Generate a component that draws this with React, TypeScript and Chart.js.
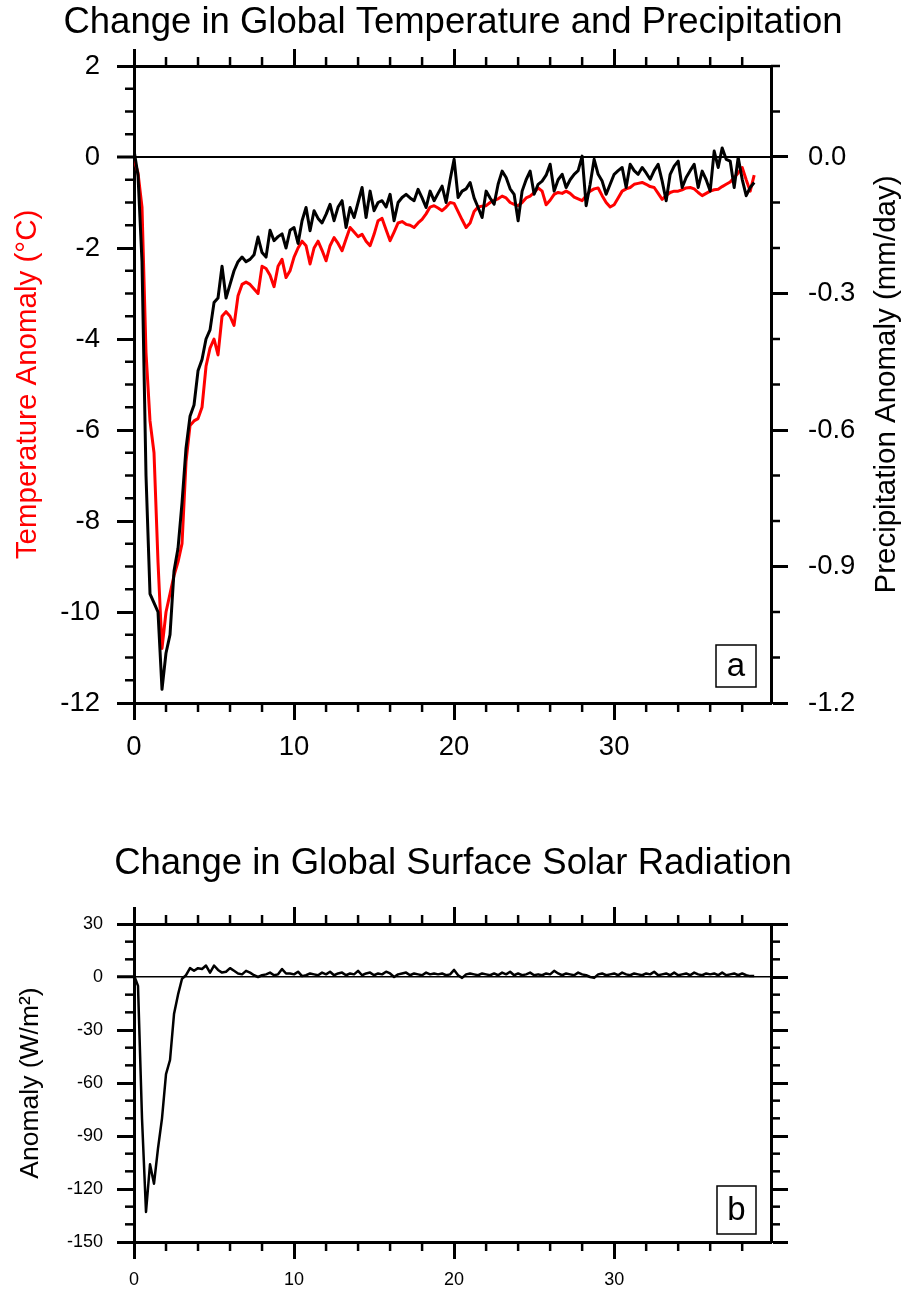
import React, { useEffect, useRef } from "react";
import { Chart, registerables } from "chart.js";

Chart.register(...registerables);

const FONT = "'Liberation Sans', Arial, Helvetica, sans-serif";

// time axis (years)
const YEARS = [
  0, 0.25, 0.5, 0.75, 1, 1.25, 1.5, 1.75, 2, 2.25, 2.5, 2.75, 3, 3.25, 3.5, 3.75,
  4, 4.25, 4.5, 4.75, 5, 5.25, 5.5, 5.75, 6, 6.25, 6.5, 6.75, 7, 7.25, 7.5, 7.75,
  8, 8.25, 8.5, 8.75, 9, 9.25, 9.5, 9.75, 10, 10.25, 10.5, 10.75, 11, 11.25, 11.5, 11.75,
  12, 12.25, 12.5, 12.75, 13, 13.25, 13.5, 13.75, 14, 14.25, 14.5, 14.75, 15, 15.25, 15.5, 15.75,
  16, 16.25, 16.5, 16.75, 17, 17.25, 17.5, 17.75, 18, 18.25, 18.5, 18.75, 19, 19.25, 19.5, 19.75,
  20, 20.25, 20.5, 20.75, 21, 21.25, 21.5, 21.75, 22, 22.25, 22.5, 22.75, 23, 23.25, 23.5, 23.75,
  24, 24.25, 24.5, 24.75, 25, 25.25, 25.5, 25.75, 26, 26.25, 26.5, 26.75, 27, 27.25, 27.5, 27.75,
  28, 28.25, 28.5, 28.75, 29, 29.25, 29.5, 29.75, 30, 30.25, 30.5, 30.75, 31, 31.25, 31.5, 31.75,
  32, 32.25, 32.5, 32.75, 33, 33.25, 33.5, 33.75, 34, 34.25, 34.5, 34.75, 35, 35.25, 35.5, 35.75,
  36, 36.25, 36.5, 36.75, 37, 37.25, 37.5, 37.75, 38, 38.25, 38.5, 38.75,
];

// Temperature anomaly (°C), red
const TEMP_ANOM = [
  -0.05, -0.35, -1.1, -4.3,
  -5.8, -6.5, -8.9, -10.8,
  -10.0, -9.6, -9.2, -8.9,
  -8.5, -6.7, -5.9, -5.8,
  -5.75, -5.5, -4.6, -4.2,
  -4.0, -4.35, -3.5, -3.4,
  -3.5, -3.7, -3.05, -2.8,
  -2.75, -2.8, -2.9, -3.0,
  -2.4, -2.45, -2.6, -2.85,
  -2.4, -2.25, -2.65, -2.5,
  -2.2, -2.0, -1.85, -1.95,
  -2.35, -2.0, -1.85, -2.05,
  -2.28, -1.95, -1.77, -1.9,
  -2.06, -1.8, -1.55, -1.65,
  -1.75, -1.7, -1.85, -1.95,
  -1.7, -1.4, -1.35, -1.6,
  -1.84, -1.65, -1.45, -1.42,
  -1.48, -1.5, -1.55, -1.45,
  -1.37, -1.25, -1.1, -1.07,
  -1.12, -1.18, -1.1, -1.0,
  -1.02, -1.2, -1.38, -1.55,
  -1.45, -1.2, -1.1, -1.08,
  -1.07, -1.0, -0.95, -0.92,
  -0.86, -0.9, -1.0, -1.04,
  -1.07, -1.0, -0.9, -0.86,
  -0.78, -0.68, -0.75, -1.05,
  -0.95, -0.82, -0.78, -0.8,
  -0.75, -0.8, -0.88, -0.92,
  -0.96, -0.85, -0.75, -0.7,
  -0.68, -0.85, -1.0, -1.1,
  -1.05, -0.9, -0.75, -0.7,
  -0.67, -0.6, -0.58, -0.56,
  -0.6, -0.65, -0.67, -0.8,
  -0.93, -0.85, -0.78, -0.75,
  -0.75, -0.72, -0.68, -0.67,
  -0.7, -0.78, -0.85, -0.8,
  -0.75, -0.72, -0.71, -0.65,
  -0.6, -0.55, -0.45, -0.35,
  -0.23, -0.5, -0.75, -0.4,
];

// Precipitation anomaly (mm/day), black
const PRECIP_ANOM = [
  0.015, -0.04, -0.23, -0.7,
  -0.96, -0.98, -1.0, -1.17,
  -1.09, -1.05, -0.91, -0.86,
  -0.76, -0.64, -0.57, -0.545,
  -0.47, -0.445, -0.4, -0.38,
  -0.32, -0.31, -0.24, -0.31,
  -0.28, -0.25, -0.23, -0.22,
  -0.23, -0.225, -0.215, -0.176,
  -0.21, -0.22, -0.161, -0.184,
  -0.175, -0.169, -0.2, -0.161,
  -0.155, -0.19, -0.14, -0.111,
  -0.162, -0.118, -0.135, -0.145,
  -0.126, -0.104, -0.14, -0.11,
  -0.096, -0.155, -0.111, -0.133,
  -0.1, -0.067, -0.133, -0.075,
  -0.118, -0.1, -0.096, -0.11,
  -0.082, -0.14, -0.1, -0.089,
  -0.082, -0.09, -0.096, -0.071,
  -0.09, -0.111, -0.075, -0.096,
  -0.08, -0.064, -0.1, -0.05,
  -0.005, -0.089, -0.075, -0.07,
  -0.056, -0.09, -0.111, -0.133,
  -0.075, -0.09, -0.104, -0.06,
  -0.031, -0.045, -0.07, -0.082,
  -0.14, -0.075, -0.05, -0.031,
  -0.082, -0.06, -0.053, -0.04,
  -0.016, -0.075, -0.05, -0.038,
  -0.067, -0.05, -0.038, -0.03,
  0.002, -0.107, -0.06, -0.005,
  -0.038, -0.053, -0.082, -0.06,
  -0.038, -0.03, -0.023, -0.067,
  -0.016, -0.03, -0.038, -0.023,
  -0.035, -0.049, -0.03, -0.016,
  -0.053, -0.096, -0.038, -0.02,
  -0.009, -0.067, -0.045, -0.03,
  -0.016, -0.067, -0.031, -0.05,
  -0.075, 0.013, -0.023, 0.02,
  -0.005, -0.009, -0.067, -0.001,
  -0.049, -0.085, -0.067, -0.056,
];

// Surface solar radiation anomaly (W/m^2)
const SOLAR_ANOM = [
  1, -5, -80, -133,
  -106, -117, -97, -80,
  -55, -47, -21, -10,
  -1, 1, 5, 3.5,
  5, 4.5, 6.5, 2.5,
  6.5, 4, 2.5, 3,
  5, 3.5, 2, 1.5,
  3.5, 2.5, 1, 0,
  1, 1.5, 2.5, 1,
  1.5, 4.5, 2, 2,
  1.5, 3, 0.5, 1,
  2, 1.5, 1, 2.5,
  1.5, 3, 1, 2,
  2.5, 1, 2, 1.5,
  3.5, 1, 2, 2.5,
  1, 2, 1.5, 3,
  2, 0, 1.5, 2,
  2.5, 1, 2, 1.5,
  1, 2.5, 1.5, 2,
  1.5, 2, 1, 1.5,
  4, 1, -0.5, 1.5,
  2, 1.5, 1, 2,
  1.5, 1, 2, 1,
  2.5, 1.5, 3, 1,
  2, 1, 1.5, 2.5,
  1, 1.5, 1, 2,
  1.5, 3.5, 2, 1,
  2, 1.5, 1, 2.5,
  1.5, 1, 0, -0.5,
  1.5, 2, 1, 1.5,
  2, 1, 2.5, 1.5,
  1, 2, 1.5, 1,
  2, 1.5, 3, 1,
  1.5, 2, 1, 2.5,
  1, 1.5, 2, 1,
  2.5, 1.5, 1, 2,
  1.5, 2, 1, 2.5,
  1, 1.5, 2, 1,
  2, 1, 0.5, 0.5,
];

const X_MIN = 0;
const X_MAX = 39.8;
const X_TICKS = [0, 10, 20, 30];
const TEMP_TICKS = [2, 0, -2, -4, -6, -8, -10, -12];
const PRECIP_TICKS = [0, -0.3, -0.6, -0.9, -1.2];
const SOLAR_TICKS = [30, 0, -30, -60, -90, -120, -150];

const TOP_TITLE = "Change in Global Temperature and Precipitation";
const BOTTOM_TITLE = "Change in Global Surface Solar Radiation";
const TEMP_LABEL = "Temperature Anomaly (°C)";
const PRECIP_LABEL = "Precipitation Anomaly (mm/day)";
const SOLAR_LABEL = "Anomaly (W/m²)";

type MinorSpec = { scale: string; side: "left" | "right" | "top" | "bottom"; from: number; to: number; step: number };

function makeExtras(specs: MinorSpec[], box: { letter: string; w: number; h: number; dr: number; db: number }, rightTitle?: { text: string; x: number; size: number }) {
  return {
    id: "extras",
    afterDraw(chart: any) {
      const { ctx, chartArea: ca } = chart;
      ctx.save();
      ctx.strokeStyle = "#000";
      ctx.lineWidth = 2.5;
      for (const m of specs) {
        const s = chart.scales[m.scale];
        const majors = new Set(s.ticks.map((t: any) => Math.round(t.value * 1000)));
        const n = Math.round((m.to - m.from) / m.step);
        for (let k = 0; k <= n; k++) {
          const v = m.from + k * m.step;
          if (majors.has(Math.round(v * 1000))) continue;
          const p = s.getPixelForValue(v);
          const len = 9;
          ctx.beginPath();
          if (m.side === "left") { ctx.moveTo(ca.left, p); ctx.lineTo(ca.left - len, p); }
          else if (m.side === "right") { ctx.moveTo(ca.right, p); ctx.lineTo(ca.right + len, p); }
          else if (m.side === "bottom") { ctx.moveTo(p, ca.bottom); ctx.lineTo(p, ca.bottom + len); }
          else { ctx.moveTo(p, ca.top); ctx.lineTo(p, ca.top - len); }
          ctx.stroke();
        }
      }
      // panel letter box
      const bx = ca.right - box.dr - box.w;
      const by = ca.bottom - box.db - box.h;
      ctx.fillStyle = "#fff";
      ctx.fillRect(bx, by, box.w, box.h);
      ctx.lineWidth = 1.5;
      ctx.strokeRect(bx, by, box.w, box.h);
      ctx.fillStyle = "#000";
      ctx.font = `33px ${FONT}`;
      ctx.textAlign = "center";
      ctx.textBaseline = "middle";
      ctx.fillText(box.letter, bx + box.w / 2, by + box.h / 2 + 1);
      // right axis title, reading bottom to top
      if (rightTitle) {
        ctx.translate(rightTitle.x, (ca.top + ca.bottom) / 2);
        ctx.rotate(-Math.PI / 2);
        ctx.font = `${rightTitle.size}px ${FONT}`;
        ctx.fillText(rightTitle.text, 0, 0);
      }
      ctx.restore();
    },
  };
}

const setTicks = (vals: number[]) => (s: any) => {
  s.ticks = vals.map((v) => ({ value: v }));
};

const BORDER = { display: true, color: "#000", width: 3 };
const tickGrid = (onArea: boolean, zeroWidth: number) => ({
  display: true,
  drawOnChartArea: onArea,
  drawTicks: true,
  tickLength: 17,
  tickWidth: 3,
  tickColor: "#000",
  color: (c: any) => (c.tick && c.tick.value === 0 ? "#000" : "rgba(0,0,0,0)"),
  lineWidth: (c: any) => (c.tick && c.tick.value === 0 ? zeroWidth : 1),
});

function TopPanel() {
  const ref = useRef<HTMLCanvasElement>(null);
  useEffect(() => {
    const extras = makeExtras(
      [
        { scale: "x", side: "bottom", from: 0, to: 38, step: 2 },
        { scale: "x", side: "top", from: 0, to: 38, step: 2 },
        { scale: "y", side: "left", from: -12, to: 2, step: 0.5 },
        { scale: "y2", side: "right", from: -1.2, to: 0.2, step: 0.1 },
      ],
      { letter: "a", w: 40, h: 42, dr: 15, db: 16 },
      { text: PRECIP_LABEL, x: 887, size: 29.5 }
    );
    const chart = new Chart(ref.current as HTMLCanvasElement, {
      type: "line",
      data: {
        datasets: [
          {
            label: "Precipitation",
            data: YEARS.map((x, i) => ({ x, y: PRECIP_ANOM[i] })),
            xAxisID: "x",
            yAxisID: "y2",
            borderColor: "#000000",
            borderWidth: 3,
            pointRadius: 0,
            tension: 0,
            borderJoinStyle: "round",
          },
          {
            label: "Temperature",
            data: YEARS.map((x, i) => ({ x, y: TEMP_ANOM[i] })),
            xAxisID: "x",
            yAxisID: "y",
            borderColor: "#ff0000",
            borderWidth: 3,
            pointRadius: 0,
            tension: 0,
            borderJoinStyle: "round",
          },
        ],
      } as any,
      options: {
        animation: false,
        responsive: false,
        maintainAspectRatio: false,
        layout: { padding: 0 },
        font: { family: FONT },
        plugins: {
          legend: { display: false },
          tooltip: { enabled: false },
          title: {
            display: true,
            text: TOP_TITLE,
            color: "#000",
            font: { family: FONT, size: 36.5, weight: "normal", lineHeight: 1 },
            padding: { top: 5, bottom: 7.5 },
          },
        },
        scales: {
          x: {
            type: "linear",
            position: "bottom",
            min: X_MIN,
            max: X_MAX,
            afterBuildTicks: setTicks(X_TICKS),
            afterFit: (s: any) => { s.height = 87; },
            grid: tickGrid(false, 1),
            border: BORDER,
            ticks: { color: "#000", font: { family: FONT, size: 27.5 }, padding: 11, maxRotation: 0, autoSkip: false, callback: (v: any) => String(v) },
          },
          xTop: {
            type: "linear",
            position: "top",
            min: X_MIN,
            max: X_MAX,
            afterBuildTicks: setTicks(X_TICKS),
            afterFit: (s: any) => { s.height = 17; },
            grid: tickGrid(false, 1),
            border: BORDER,
            ticks: { display: false },
          },
          y: {
            type: "linear",
            position: "left",
            min: -12,
            max: 2,
            afterBuildTicks: setTicks(TEMP_TICKS),
            afterFit: (s: any) => { s.width = 134; },
            grid: tickGrid(true, 2),
            border: BORDER,
            ticks: { color: "#000", font: { family: FONT, size: 27.5 }, padding: 17, autoSkip: false, callback: (v: any) => String(v) },
            title: {
              display: true,
              text: TEMP_LABEL,
              color: "#ff0000",
              font: { family: FONT, size: 29.5, lineHeight: 1 },
              padding: { top: 13, bottom: 0 },
            },
          },
          y2: {
            type: "linear",
            position: "right",
            min: -1.2,
            max: 0.2,
            afterBuildTicks: setTicks(PRECIP_TICKS),
            afterFit: (s: any) => { s.width = 135; },
            grid: tickGrid(false, 1),
            border: BORDER,
            ticks: { color: "#000", font: { family: FONT, size: 27.5 }, padding: 20, autoSkip: false, callback: (v: any) => Number(v).toFixed(1) },
          },
        },
      } as any,
      plugins: [extras as any],
    });
    return () => chart.destroy();
  }, []);
  return <canvas ref={ref} width={906} height={790} style={{ position: "absolute", left: 0, top: 0 }} />;
}

function BottomPanel() {
  const ref = useRef<HTMLCanvasElement>(null);
  useEffect(() => {
    const extras = makeExtras(
      [
        { scale: "x", side: "bottom", from: 0, to: 38, step: 2 },
        { scale: "x", side: "top", from: 0, to: 38, step: 2 },
        { scale: "y", side: "left", from: -150, to: 30, step: 10 },
        { scale: "y", side: "right", from: -150, to: 30, step: 10 },
      ],
      { letter: "b", w: 39, h: 48, dr: 15, db: 8 }
    );
    const chart = new Chart(ref.current as HTMLCanvasElement, {
      type: "line",
      data: {
        datasets: [
          {
            label: "Surface Solar Radiation",
            data: YEARS.map((x, i) => ({ x, y: SOLAR_ANOM[i] })),
            xAxisID: "x",
            yAxisID: "y",
            borderColor: "#000000",
            borderWidth: 2.5,
            pointRadius: 0,
            tension: 0,
            borderJoinStyle: "round",
          },
        ],
      } as any,
      options: {
        animation: false,
        responsive: false,
        maintainAspectRatio: false,
        layout: { padding: 0 },
        font: { family: FONT },
        plugins: {
          legend: { display: false },
          tooltip: { enabled: false },
          title: {
            display: true,
            text: BOTTOM_TITLE,
            color: "#000",
            font: { family: FONT, size: 36.5, weight: "normal", lineHeight: 1 },
            padding: { top: 56, bottom: 24.5 },
          },
        },
        scales: {
          x: {
            type: "linear",
            position: "bottom",
            min: X_MIN,
            max: X_MAX,
            afterBuildTicks: setTicks(X_TICKS),
            afterFit: (s: any) => { s.height = 54; },
            grid: tickGrid(false, 1),
            border: BORDER,
            ticks: { color: "#000", font: { family: FONT, size: 18 }, padding: 10, maxRotation: 0, autoSkip: false, callback: (v: any) => String(v) },
          },
          xTop: {
            type: "linear",
            position: "top",
            min: X_MIN,
            max: X_MAX,
            afterBuildTicks: setTicks(X_TICKS),
            afterFit: (s: any) => { s.height = 17; },
            grid: tickGrid(false, 1),
            border: BORDER,
            ticks: { display: false },
          },
          y: {
            type: "linear",
            position: "left",
            min: -150,
            max: 30,
            afterBuildTicks: setTicks(SOLAR_TICKS),
            afterFit: (s: any) => { s.width = 134; },
            grid: tickGrid(true, 1.5),
            border: BORDER,
            ticks: { color: "#000", font: { family: FONT, size: 18 }, padding: 14, autoSkip: false, callback: (v: any) => String(v) },
            title: {
              display: true,
              text: SOLAR_LABEL,
              color: "#000",
              font: { family: FONT, size: 26.5, lineHeight: 1 },
              padding: { top: 17, bottom: 0 },
            },
          },
          yRight: {
            type: "linear",
            position: "right",
            min: -150,
            max: 30,
            afterBuildTicks: setTicks(SOLAR_TICKS),
            afterFit: (s: any) => { s.width = 135; },
            grid: tickGrid(false, 1),
            border: BORDER,
            ticks: { display: false },
          },
        },
      } as any,
      plugins: [extras as any],
    });
    return () => chart.destroy();
  }, []);
  return <canvas ref={ref} width={906} height={506} style={{ position: "absolute", left: 0, top: 790 }} />;
}

export default function App() {
  return (
    <div style={{ position: "absolute", left: 0, top: 0, width: 906, height: 1296, background: "#fff" }}>
      <TopPanel />
      <BottomPanel />
    </div>
  );
}
